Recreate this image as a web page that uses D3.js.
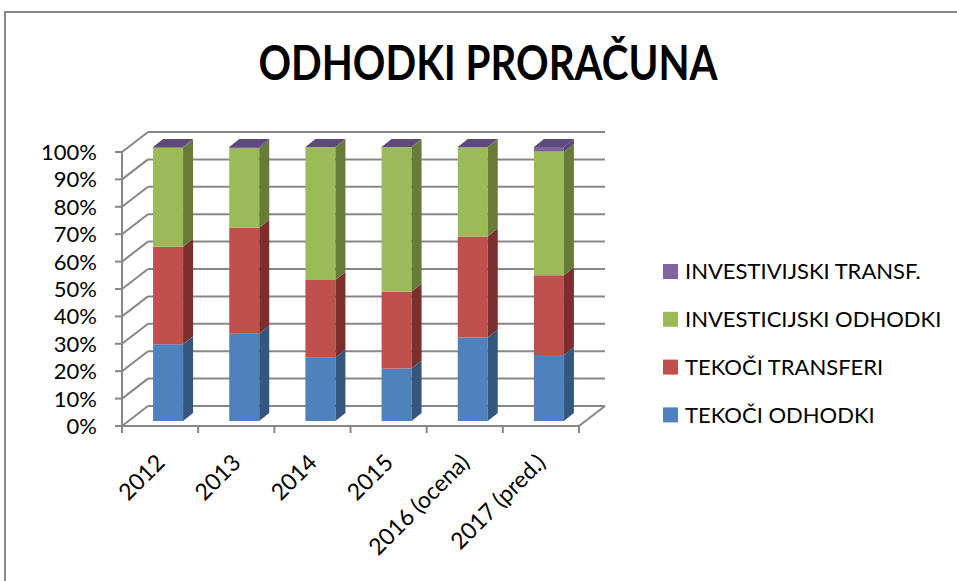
<!DOCTYPE html>
<html>
<head>
<meta charset="utf-8">
<script src="https://cdn.jsdelivr.net/npm/d3@7"></script>
<style>
  body { margin: 0; background: #fff; }
  svg { display: block; font-family: Lato, "Open Sans", sans-serif; }
</style>
</head>
<body>
<div id="chart"></div>
<script>
// Chart data (percent shares)
const years = ["2012", "2013", "2014", "2015", "2016 (ocena)", "2017 (pred.)"];
const tekociOdhodki = [28.0, 31.8, 23.1, 19.2, 30.5, 24.1];
const tekociTransferi = [35.6, 38.7, 28.4, 28.0, 36.8, 29.1];
const investicijskiOdhodki = [36.1, 29.0, 48.4, 52.7, 32.5, 45.1];
const investicijskiTransf = [0.3, 0.5, 0.1, 0.1, 0.2, 1.7];
const yTicks = [0, 10, 20, 30, 40, 50, 60, 70, 80, 90, 100];

const series = [
  { name: "TEKOČI ODHODKI", values: tekociOdhodki, front: "#4F81BD", side: "#34577F", top: "#6B95CB" },
  { name: "TEKOČI TRANSFERI", values: tekociTransferi, front: "#C0504D", side: "#7C302E", top: "#CF6E6B" },
  { name: "INVESTICIJSKI ODHODKI", values: investicijskiOdhodki, front: "#9BBB59", side: "#667C38", top: "#B1CC78" },
  { name: "INVESTIVIJSKI TRANSF.", values: investicijskiTransf, front: "#8064A2", side: "#5A4677", top: "#5E4A7A" }
];

const width = 957;
const height = 581;

const svg = d3.select("#chart")
  .append("svg")
  .attr("width", width)
  .attr("height", height);

// outer chart frame
svg.append("rect")
  .attr("x", 5).attr("y", 12)
  .attr("width", 1000).attr("height", 1000)
  .style("fill", "none")
  .style("stroke", "#8a8a8a")
  .style("stroke-width", 2);

// title
svg.append("text")
  .attr("x", 488).attr("y", 80)
  .attr("text-anchor", "middle")
  .attr("textLength", 459)
  .attr("lengthAdjust", "spacingAndGlyphs")
  .style("font-size", "48px")
  .style("font-weight", "bold")
  .text("ODHODKI PRORAČUNA");

// scales for the front plane of the 3D box
const x = d3.scaleBand().domain(years).range([122, 579]);
const y = d3.scaleLinear().domain([0, 100]).range([426, 152]);
const depth = { dx: 26, dy: -20 };      // depth of the whole plot box
const barShift = { dx: 8, dy: -5 };     // bars sit a bit behind the front plane
const barDepth = { dx: 10, dy: -8 };
const barWidth = 30;
const gridColor = "#878787";

const grid = svg.append("g")
  .style("stroke", gridColor)
  .style("stroke-width", 2)
  .style("fill", "none");

// back wall gridlines
yTicks.forEach((t) => {
  grid.append("line")
    .attr("x1", x.range()[0] + depth.dx).attr("x2", x.range()[1] + depth.dx)
    .attr("y1", y(t) + depth.dy).attr("y2", y(t) + depth.dy);
  // side wall diagonals
  grid.append("line")
    .attr("x1", x.range()[0]).attr("x2", x.range()[0] + depth.dx)
    .attr("y1", y(t)).attr("y2", y(t) + depth.dy);
  // y ticks
  grid.append("line")
    .attr("x1", x.range()[0] - 7).attr("x2", x.range()[0])
    .attr("y1", y(t)).attr("y2", y(t));
});

// floor
grid.append("line")
  .attr("x1", x.range()[0]).attr("x2", x.range()[1])
  .attr("y1", y(0)).attr("y2", y(0));
grid.append("line")
  .attr("x1", x.range()[1]).attr("x2", x.range()[1] + depth.dx)
  .attr("y1", y(0)).attr("y2", y(0) + depth.dy);
// vertical axis
grid.append("line")
  .attr("x1", x.range()[0]).attr("x2", x.range()[0])
  .attr("y1", y(0)).attr("y2", y(100));
// x ticks
years.concat([null]).forEach((d, i) => {
  const xx = d === null ? x.range()[1] : x(d);
  grid.append("line")
    .attr("x1", xx).attr("x2", xx)
    .attr("y1", y(0)).attr("y2", y(0) + 7);
});

// y tick labels
svg.append("g")
  .selectAll("text")
  .data(yTicks)
  .join("text")
  .attr("x", 97)
  .attr("y", (d) => y(d))
  .attr("dy", "0.36em")
  .attr("text-anchor", "end")
  .style("font-size", "22px")
  .text((d) => d + "%");

// x tick labels, rotated
svg.append("g")
  .selectAll("text")
  .data(years)
  .join("text")
  .attr("transform", (d) => `translate(${x(d) + x.bandwidth() / 2 + 6},${y(0) + 38}) rotate(-45)`)
  .attr("text-anchor", "end")
  .style("font-size", "23px")
  .text((d) => d);

// stack the series
const stacked = years.map((yr, i) => {
  let base = 0;
  return series.map((s) => {
    const seg = { y0: base, y1: base + s.values[i], s: s };
    base += s.values[i];
    return seg;
  });
});

const poly = (pts) => pts.map((p) => p.join(",")).join(" ");

const bars = svg.append("g");
years.forEach((yr, i) => {
  const x0 = x(yr) + x.bandwidth() / 2 - barWidth / 2 + barShift.dx;
  const x1 = x0 + barWidth;
  const g = bars.append("g");
  stacked[i].forEach((seg, k) => {
    const yb = y(seg.y0) + barShift.dy;
    const yt = y(seg.y1) + barShift.dy;
    // front face
    g.append("polygon")
      .attr("points", poly([[x0, yb], [x1, yb], [x1, yt], [x0, yt]]))
      .style("fill", seg.s.front);
    // side face
    g.append("polygon")
      .attr("points", poly([[x1, yb], [x1 + barDepth.dx, yb + barDepth.dy],
        [x1 + barDepth.dx, yt + barDepth.dy], [x1, yt]]))
      .style("fill", seg.s.side);
    // top face only on the last segment
    if (k === stacked[i].length - 1) {
      g.append("polygon")
        .attr("points", poly([[x0, yt], [x1, yt], [x1 + barDepth.dx, yt + barDepth.dy],
          [x0 + barDepth.dx, yt + barDepth.dy]]))
        .style("fill", seg.s.top);
    }
  });
});

// legend (reverse order, top to bottom)
const legend = svg.append("g").attr("transform", "translate(663,264)");
series.slice().reverse().forEach((s, i) => {
  const item = legend.append("g").attr("transform", `translate(0, ${i * 47.8})`);
  item.append("rect")
    .attr("width", 15).attr("height", 15)
    .style("fill", s.front);
  item.append("text")
    .attr("x", 22).attr("y", 7.5)
    .attr("dy", "0.36em")
    .style("font-size", "22px")
    .text(s.name);
});
</script>
</body>
</html>
